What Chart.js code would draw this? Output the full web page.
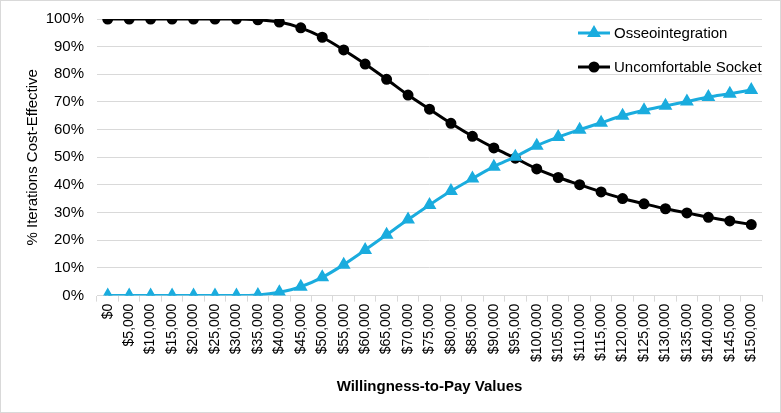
<!DOCTYPE html>
<html>
<head>
<meta charset="utf-8">
<script src="https://cdn.jsdelivr.net/npm/chart.js@4"></script>
<style>
  html, body { margin: 0; padding: 0; background: #fff; }
  .wrap { width: 781px; height: 413px; box-sizing: border-box; border: 1px solid #d9d9d9; }
  canvas { display: block; }
</style>
</head>
<body>
<div class="wrap"><canvas id="myChart" width="779" height="411"></canvas></div>
<script>
const wtpValues = [
    '$0', '$5,000', '$10,000', '$15,000', '$20,000', '$25,000', '$30,000', '$35,000',
    '$40,000', '$45,000', '$50,000', '$55,000', '$60,000', '$65,000', '$70,000', '$75,000',
    '$80,000', '$85,000', '$90,000', '$95,000', '$100,000', '$105,000', '$110,000', '$115,000',
    '$120,000', '$125,000', '$130,000', '$135,000', '$140,000', '$145,000', '$150,000'
];
const osseointegration = [
    0, 0, 0, 0, 0, 0, 0, 0.2, 1.2, 3.2, 6.6, 11.2, 16.5, 22, 27.5, 32.8,
    37.8, 42.3, 46.6, 50.2, 54.2, 57.3, 60, 62.5, 65, 67, 68.6, 70.2, 71.8, 73, 74.3
];
const uncomfortableSocket = [
    100, 100, 100, 100, 100, 100, 100, 99.7, 98.9, 96.8, 93.4, 88.8, 83.7, 78.2, 72.5, 67.4,
    62.3, 57.6, 53.4, 49.7, 45.8, 42.7, 40.1, 37.5, 35.1, 33.2, 31.4, 29.9, 28.3, 27, 25.7
];
const yTicks = [0, 10, 20, 30, 40, 50, 60, 70, 80, 90, 100];

const blue = '#1aacde';
const font = "'Liberation Sans', Arial, sans-serif";

window.addEventListener('DOMContentLoaded', () => {
    // legend drawn inside the plot, top right
    const insideLegend = {
        id: 'insideLegend',
        afterDraw(chart) {
            const ctx = chart.ctx;
            const x0 = 577;
            const rows = [32, 66];
            ctx.save();
            chart.data.datasets.forEach((ds, i) => {
                const y = rows[i];
                ctx.strokeStyle = ds.borderColor;
                ctx.lineWidth = 3;
                ctx.beginPath();
                ctx.moveTo(x0, y);
                ctx.lineTo(x0 + 32, y);
                ctx.stroke();
                ctx.fillStyle = ds.borderColor;
                Chart.helpers.drawPoint(ctx, {
                    pointStyle: ds.pointStyle,
                    radius: ds.pointRadius,
                    rotation: 0,
                    borderWidth: 1
                }, x0 + 16, y);
                ctx.fillStyle = '#000';
                ctx.font = '15px ' + font;
                ctx.textBaseline = 'middle';
                ctx.textAlign = 'left';
                ctx.fillText(ds.label, x0 + 36, y + 1);
            });
            ctx.restore();
        }
    };

    const data = {
        labels: wtpValues,
        datasets: [{
            label: 'Osseointegration',
            data: osseointegration,
            borderColor: blue,
            backgroundColor: blue,
            pointBackgroundColor: blue,
            pointBorderColor: blue,
            pointStyle: 'triangle',
            pointRadius: 5,
            borderWidth: 3,
            cubicInterpolationMode: 'monotone'
        }, {
            label: 'Uncomfortable Socket',
            data: uncomfortableSocket,
            borderColor: '#000',
            backgroundColor: '#000',
            pointBackgroundColor: '#000',
            pointBorderColor: '#000',
            pointStyle: 'circle',
            pointRadius: 4,
            borderWidth: 3,
            cubicInterpolationMode: 'monotone'
        }]
    };

    const options = {
        responsive: false,
        animation: false,
        layout: {
            padding: { left: 14, right: 18, top: 18, bottom: 16 }
        },
        scales: {
            x: {
                offset: true,
                border: { color: '#d9d9d9', width: 1 },
                grid: {
                    offset: true,
                    drawOnChartArea: false,
                    color: '#d9d9d9',
                    tickLength: 6
                },
                ticks: {
                    autoSkip: false,
                    maxRotation: 90,
                    minRotation: 90,
                    color: '#000',
                    padding: 2,
                    font: { family: font, size: 14 }
                },
                title: {
                    display: true,
                    text: 'Willingness-to-Pay Values',
                    color: '#000',
                    padding: { top: 14, bottom: 0 },
                    font: { family: font, size: 15, weight: 'bold' }
                }
            },
            y: {
                min: 0,
                max: 100,
                afterBuildTicks(axis) {
                    axis.ticks = yTicks.map(v => ({ value: v }));
                },
                afterFit(axis) {
                    axis.width = 82;
                    axis.paddingTop = 0;
                    axis.paddingBottom = 0;
                },
                border: { display: false },
                grid: {
                    color: '#d9d9d9',
                    drawTicks: false
                },
                ticks: {
                    color: '#000',
                    padding: 13,
                    font: { family: font, size: 15 },
                    callback: v => v + '%'
                },
                title: {
                    display: true,
                    text: '% Iterations Cost-Effective',
                    color: '#000',
                    padding: { top: 9, bottom: 0 },
                    font: { family: font, size: 15 }
                }
            }
        },
        plugins: {
            legend: { display: false },
            tooltip: { enabled: false }
        }
    };

    new Chart(document.getElementById('myChart'), {
        type: 'line',
        data: data,
        options: options,
        plugins: [insideLegend]
    });
});
</script>
</body>
</html>
